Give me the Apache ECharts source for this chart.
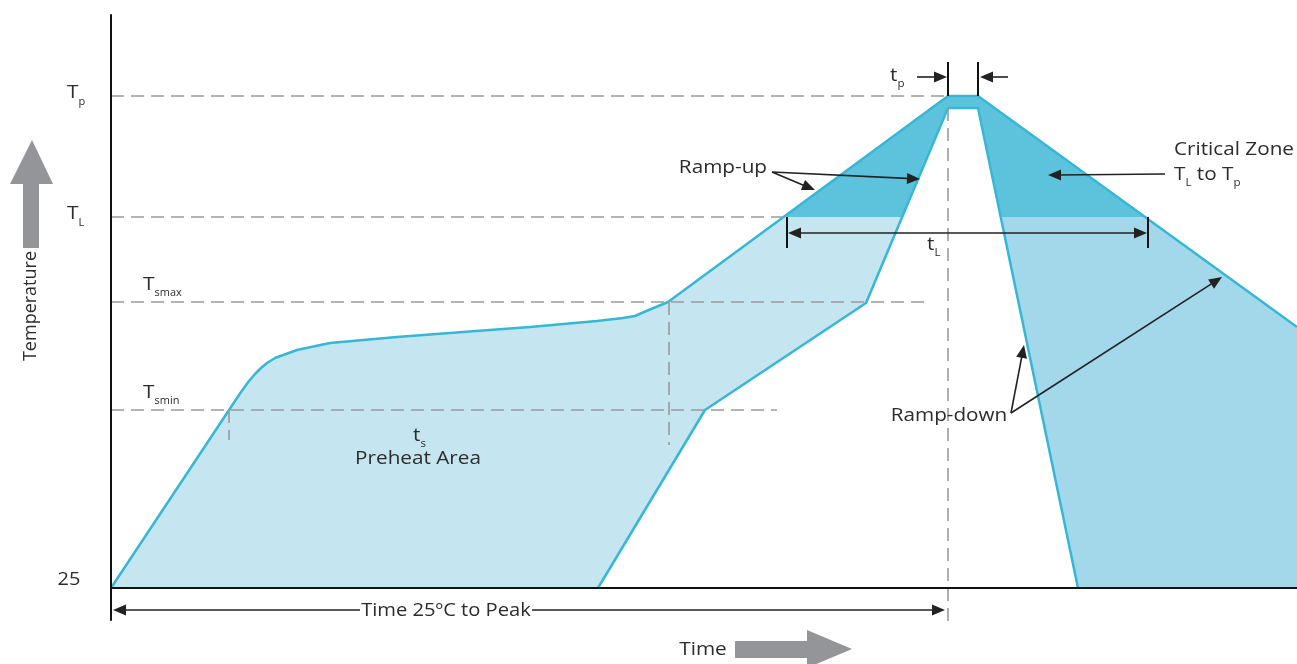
<!DOCTYPE html>
<html><head><meta charset="utf-8">
<script src="https://cdn.jsdelivr.net/npm/echarts@6/dist/echarts.min.js"></script>
<style>html,body{margin:0;padding:0;background:#fff}#c{width:1297px;height:664px}</style>
</head><body><div id="c"></div>
<script>
// Schematic reflow profile. x = time (arbitrary units), y = temperature (schematic units, 0 = 25 °C)
const levelNames  = ['25', 'Tsmin', 'Tsmax', 'TL', 'Tp'];
const levelValues = [0, 178, 286, 371, 492];
const xRange = [0, 1186];
const yRange = [-32, 573];

// upper (outer) profile limit
const outerProfile = [[0,0],[118,178],[130,196],[138,207],[144,214],[150,220],[156,225],[164,230],[175,234],[186,238],[200,241],[219,245],[286,251],[352,256],[419,261],[486,267],[512,270],[524,272],[533,276],[557,286],[837,492],[867,492],[1186,261]];
// lower (inner) profile limit
const innerProfile = [[487,0],[594,178],[755,285],[837,480],[867,480],[967,0]];
const peakSplitX = 852;

// guide lines (dashed)
const dashedGuides = [
  [[0,492],[837,492]], [[0,371],[673,371]], [[0,286],[817,286]], [[0,178],[666,178]],
  [[118,178],[118,148]], [[558,286],[558,143]], [[837,480],[837,-40]]
];
// solid marker bars
const markerBars = [ [[837,492],[837,526]], [[867,492],[867,526]], [[676,371],[676,340]], [[1037,371],[1037,340]] ];
// single arrows [from, to]
const arrows = [
  [[661,416],[704,398]], [[661,416],[809,409]],
  [[1054,414],[937,413]],
  [[900,175],[913,243]], [[900,175],[1111,311]],
  [[806,511],[836,511]], [[897,511],[869,511]]
];
// double arrows
const doubleArrows = [ [[677,355],[1036,355]], [[2,-22],[834,-22]] ];
// text annotations: [anchor, segments, align]
const notes = [
  [[656,420], [['Ramp-up']], 'right'],
  [[1063,438], [['Critical Zone']], 'left'],
  [[1063,413], [['T'],['L',1],[' to T'],['p',1]], 'left'],
  [[838,172], [['Ramp-down']], 'center'],
  [[302,152], [['t'],['s',1]], 'left'],
  [[307,129], [['Preheat Area']], 'center'],
  [[816,343], [['t'],['L',1]], 'left'],
  [[779,512], [['t'],['p',1]], 'left'],
];
const peakText = [[335,-23], 'Time 25ºC to Peak'];
const axisLabelSegs = [ [['25']], [['T'],['smin',1]], [['T'],['smax',1]], [['T'],['L',1]], [['T'],['p',1]] ];

const colLight = '#c5e6f0', colMid = '#a2d8ea', colDark = '#5dc3dc', colLine = '#35b7d5';
const FONT = '"Open Sans", sans-serif';
const TXT = '#2c2c2c';

function clipHalf(poly, axis, c, keepGreater) {
  const out = [];
  const ins = p => keepGreater ? p[axis] >= c : p[axis] <= c;
  for (let i = 0; i < poly.length; i++) {
    const a = poly[i], b = poly[(i + 1) % poly.length];
    const ia = ins(a), ib = ins(b);
    if (ia) out.push(a);
    if (ia !== ib) {
      const t = (c - a[axis]) / (b[axis] - a[axis]);
      out.push([a[0] + t * (b[0] - a[0]), a[1] + t * (b[1] - a[1])]);
    }
  }
  return out;
}
const TL = levelValues[3];
const band = outerProfile.concat([[xRange[1], 0]], innerProfile.slice().reverse());
const below = clipHalf(band, 1, TL, false);
const regions = [
  clipHalf(below, 0, peakSplitX, false),
  clipHalf(below, 0, peakSplitX, true),
  clipHalf(band, 1, TL, true)
];
const regionColors = [colLight, colMid, colDark];

const mctx = document.createElement('canvas').getContext('2d');
function measure(s, size) { mctx.font = size + 'px ' + FONT; return mctx.measureText(s).width; }

function textEl(x, y, s, size, align, sx, extra) {
  const st = Object.assign({ text: s, x: 0, y: 0, fill: TXT, font: size + 'px ' + FONT,
    align: align, verticalAlign: 'middle', textAlign: align, textVerticalAlign: 'middle' }, extra || {});
  return { type: 'text', x: x, y: y, scaleX: sx, style: st };
}
function segRun(px, segs, align, main, sub, sx, subDy) {
  let total = 0;
  segs.forEach(s => total += measure(s[0], s[1] ? sub : main) * sx);
  let cx = align === 'left' ? px[0] : align === 'right' ? px[0] - total : px[0] - total / 2;
  const out = [];
  segs.forEach(s => {
    const size = s[1] ? sub : main;
    out.push(textEl(cx, px[1] + (s[1] ? subDy : 0), s[0], size, 'left', sx));
    cx += measure(s[0], size) * sx;
  });
  return out;
}
function headEl(a, b, len, hw) {
  const dx = b[0] - a[0], dy = b[1] - a[1], L = Math.hypot(dx, dy);
  const ux = dx / L, uy = dy / L;
  const bx = b[0] - ux * len, by = b[1] - uy * len;
  return { type: 'polygon', shape: { points: [b, [bx - uy * hw, by + ux * hw], [bx + uy * hw, by - ux * hw]] }, style: { fill: '#222' } };
}
function shorten(a, b, d) {
  const dx = b[0] - a[0], dy = b[1] - a[1], L = Math.hypot(dx, dy);
  return [b[0] - dx / L * d, b[1] - dy / L * d];
}
function lineEl(a, b, style) { return { type: 'line', shape: { x1: a[0], y1: a[1], x2: b[0], y2: b[1] }, style: style }; }

const chart = echarts.init(document.getElementById('c'), null, { renderer: 'canvas' });
chart.setOption({
  animation: false,
  backgroundColor: '#fff',
  grid: { left: 111, right: 0, top: 15, bottom: 44 },
  xAxis: { type: 'value', min: xRange[0], max: xRange[1], z: 10,
    axisLine: { show: true, onZero: true, lineStyle: { color: '#111', width: 2 } },
    axisTick: { show: false }, axisLabel: { show: false }, splitLine: { show: false } },
  yAxis: { type: 'value', min: yRange[0], max: yRange[1], z: 10,
    axisLine: { show: true, onZero: true, lineStyle: { color: '#111', width: 2 } },
    axisTick: { show: false }, axisLabel: { show: false }, splitLine: { show: false } },
  series: [
    { type: 'custom', name: 'zones', z: 1, silent: true, clip: false,
      data: regions.map((r, i) => i),
      renderItem: (params, api) => ({
        type: 'polygon',
        shape: { points: regions[params.dataIndex].map(p => api.coord(p)) },
        style: { fill: regionColors[params.dataIndex] }
      }) },
    { type: 'line', name: 'upper', z: 2, silent: true, data: outerProfile, showSymbol: false,
      lineStyle: { color: colLine, width: 2.5, join: 'round' } },
    { type: 'line', name: 'lower', z: 2, silent: true, data: innerProfile, showSymbol: false,
      lineStyle: { color: colLine, width: 2.5 } },
    { type: 'custom', name: 'notes', z: 5, silent: true, clip: false, data: [0],
      renderItem: (params, api) => {
        const C = p => api.coord(p);
        const ch = [];
        const dash = { stroke: '#9a9a9a', lineWidth: 1.6, lineDash: [13, 7] };
        dashedGuides.forEach(g => ch.push(lineEl(C(g[0]), C(g[1]), dash)));
        markerBars.forEach(g => ch.push(lineEl(C(g[0]), C(g[1]), { stroke: '#111', lineWidth: 2 })));
        const solid = { stroke: '#222', lineWidth: 1.6 };
        arrows.forEach(a => {
          const p0 = C(a[0]), p1 = C(a[1]);
          ch.push(lineEl(p0, shorten(p0, p1, 8), solid));
          ch.push(headEl(p0, p1, 13, 5.5));
        });
        const pt = C(peakText[0]);
        doubleArrows.forEach(a => {
          const p0 = C(a[0]), p1 = C(a[1]);
          ch.push(lineEl(shorten(p1, p0, 8), shorten(p0, p1, 8), solid));
          ch.push(headEl(p0, p1, 13, 5.5));
          ch.push(headEl(p1, p0, 13, 5.5));
        });
        ch.push(textEl(pt[0], pt[1], peakText[1], 18, 'center', 1.12, { backgroundColor: '#fff', padding: [0, 1] }));
        notes.forEach(n => {
          segRun(C(n[0]), n[1], n[2], 18, 10, 1.15, 8).forEach(e => ch.push(e));
        });
        // y-axis level labels
        levelValues.forEach((v, i) => {
          const p = C([0, v]);
          if (i === 0) {
            ch.push(textEl(p[0] - 42, p[1] - 8, axisLabelSegs[0][0][0], 19, 'center', 1.05));
          } else if (i <= 2) {
            segRun([p[0] + 32, p[1] - 17], axisLabelSegs[i], 'left', 19, 10, 1.1, 8).forEach(e => ch.push(e));
          } else {
            segRun([p[0] - 44, p[1] - 3], axisLabelSegs[i], 'left', 19, 10, 1.1, 9).forEach(e => ch.push(e));
          }
        });
        return { type: 'group', children: ch };
      } }
  ],
  graphic: [
    { type: 'polygon', shape: { points: [[32,140],[53,184],[39,184],[39,248],[23,248],[23,184],[10,184]] }, style: { fill: '#949598' } },
    { type: 'polygon', shape: { points: [[852,649],[807,630],[807,641],[735,641],[735,658],[807,658],[807,668]] }, style: { fill: '#949598' } },
    { type: 'text', x: 31, y: 306, rotation: Math.PI / 2,
      style: { text: 'Temperature', font: '18px ' + FONT, fill: TXT, align: 'center', verticalAlign: 'middle', textAlign: 'center', textVerticalAlign: 'middle' } },
    { type: 'text', x: 703, y: 650, scaleX: 1.15,
      style: { text: 'Time', font: '18px ' + FONT, fill: TXT, align: 'center', verticalAlign: 'middle', textAlign: 'center', textVerticalAlign: 'middle' } }
  ]
});
</script>
</body></html>
